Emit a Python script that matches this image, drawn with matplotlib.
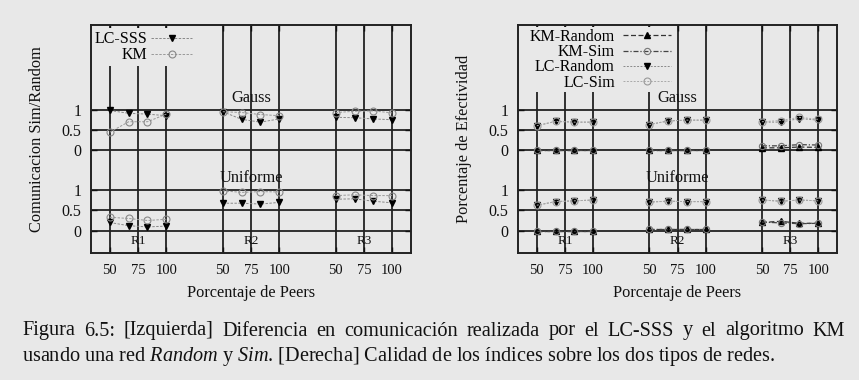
import numpy as np
import matplotlib
matplotlib.use("Agg")
import matplotlib.pyplot as plt

plt.rcParams['font.family'] = ['Liberation Serif', 'DejaVu Serif']
plt.rcParams['mathtext.fontset'] = 'custom'
plt.rcParams['mathtext.rm'] = 'Liberation Serif'
plt.rcParams['mathtext.it'] = 'Liberation Serif:italic'

BG = '#e8e8e8'
INK = '#111111'

# x positions within each group (percentage of peers)
peers = [50, 66.7, 83.3, 100]
groups = ['R1', 'R2', 'R3']
tick_vals = [50, 75, 100]

# left panel: communication Sim/Random
left_gauss_lc = [[0.99, 0.92, 0.90, 0.86], [0.96, 0.77, 0.70, 0.78], [0.82, 0.81, 0.78, 0.76]]
left_gauss_km = [[0.45, 0.71, 0.71, 0.90], [0.96, 0.94, 0.89, 0.86], [0.94, 0.97, 0.98, 0.93]]
left_unif_lc = [[0.20, 0.12, 0.09, 0.11], [0.68, 0.68, 0.66, 0.70], [0.78, 0.79, 0.73, 0.69]]
left_unif_km = [[0.33, 0.30, 0.25, 0.28], [0.99, 0.95, 0.97, 0.96], [0.87, 0.89, 0.87, 0.87]]

# right panel: effectiveness
right_gauss_km_rand = [[0.0, 0.0, 0.0, 0.0], [0.0, 0.0, 0.0, 0.0], [0.06, 0.06, 0.08, 0.07]]
right_gauss_km_sim = [[0.0, 0.0, 0.0, 0.0], [0.0, 0.0, 0.0, 0.0], [0.11, 0.11, 0.14, 0.13]]
right_gauss_lc_rand = [[0.61, 0.72, 0.70, 0.70], [0.64, 0.73, 0.75, 0.75], [0.70, 0.70, 0.79, 0.75]]
right_gauss_lc_sim = [[0.61, 0.72, 0.70, 0.70], [0.64, 0.73, 0.75, 0.75], [0.71, 0.74, 0.82, 0.77]]
right_unif_km_rand = [[0.0, 0.0, 0.0, 0.0], [0.03, 0.03, 0.03, 0.03], [0.20, 0.23, 0.18, 0.18]]
right_unif_km_sim = [[0.0, 0.0, 0.0, 0.0], [0.03, 0.03, 0.03, 0.03], [0.21, 0.19, 0.17, 0.18]]
right_unif_lc_rand = [[0.63, 0.72, 0.74, 0.76], [0.71, 0.73, 0.72, 0.72], [0.76, 0.73, 0.76, 0.74]]
right_unif_lc_sim = [[0.63, 0.72, 0.74, 0.76], [0.71, 0.73, 0.72, 0.72], [0.76, 0.73, 0.76, 0.74]]

GAUSS_SHIFT = 2.0
GROUP_STEP = 100.0

caption1 = "Figura 6.5: [Izquierda] Diferencia en comunicación realizada por el LC-SSS y el algoritmo KM"
caption2 = r"usando una red $\mathit{Random}$ y $\mathit{Sim}$. [Derecha] Calidad de los índices sobre los dos tipos de redes."

W, H = 859, 380
fig = plt.figure(figsize=(W/100, H/100), dpi=100, facecolor=BG)
ax1 = fig.add_axes([91/W, 1-253/H, 320/W, 228/H])
ax2 = fig.add_axes([518/W, 1-253/H, 319/W, 228/H])

TICK_FS = 10.5
LAB_FS = 11.8
LEG_FS = 11.5
CAP_FS = 14.6


def plot_series(ax, vals, shift, label, **kw):
    for i, row in enumerate(vals):
        xs = np.array(peers) + GROUP_STEP * i
        ys = np.array(row) + shift
        ax.plot(xs, ys, label=label if (i == 0 and shift == GAUSS_SHIFT) else None,
                zorder=3, clip_on=False, **kw)


def setup(ax, ylabel):
    ax.set_facecolor(BG)
    ax.set_xlim(33.3, 316.7)
    ax.set_ylim(-0.56, 5.12)
    xt = [v + GROUP_STEP * i for i in range(len(groups)) for v in tick_vals]
    ax.set_xticks(xt)
    ax.set_xticklabels([str(v) for _ in groups for v in tick_vals], fontsize=TICK_FS, color=INK)
    ax.set_yticks([0, 0.5, 1, 2, 2.5, 3])
    ax.set_yticklabels(['0', '0.5', '1', '0', '0.5', '1'], fontsize=TICK_FS + 1, color=INK)
    ax.tick_params(axis='both', direction='in', top=True, right=True, length=4,
                   width=1.0, color=INK)
    ax.tick_params(axis='x', pad=8)
    ax.tick_params(axis='y', pad=7)
    for v in xt:
        ax.axvline(v, color='#222222', lw=1.3, zorder=1)
    for v in [0, 0.5, 1, 2, 2.5, 3]:
        ax.axhline(v, color='#222222', lw=1.3, zorder=1)
    for s in ax.spines.values():
        s.set_linewidth(1.4)
        s.set_color('#222222')
    ax.set_xlabel('Porcentaje de Peers', fontsize=LAB_FS, color=INK, labelpad=6)
    ax.set_ylabel(ylabel, fontsize=LAB_FS, color=INK, labelpad=12)
    ax.text(175, 3.3, 'Gauss', ha='center', va='center', fontsize=LAB_FS, color=INK, zorder=6)
    ax.text(175, 1.31, 'Uniforme', ha='center', va='center', fontsize=LAB_FS, color=INK, zorder=6)
    for i, g in enumerate(groups):
        ax.text(75 + GROUP_STEP * i, -0.27, g, ha='center', va='center', fontsize=9.5,
                color=INK, zorder=4)


setup(ax1, 'Comunicacion Sim/Random')
lc_kw = dict(color='#888888', lw=0.7, ls=(0, (2.5, 1.5)), marker='v', ms=5,
             mfc='black', mec='black')
km_kw = dict(color='#999999', lw=0.7, ls=(0, (2.5, 1.5)), marker='o', ms=5,
             mfc='none', mec='#888888', mew=0.8)
for vals, sh in [(left_gauss_lc, GAUSS_SHIFT), (left_unif_lc, 0)]:
    plot_series(ax1, vals, sh, 'LC-SSS', **lc_kw)
for vals, sh in [(left_gauss_km, GAUSS_SHIFT), (left_unif_km, 0)]:
    plot_series(ax1, vals, sh, 'KM', **km_kw)
leg1 = ax1.legend(loc='upper left', bbox_to_anchor=(0, 0.99), frameon=True, facecolor=BG,
                  edgecolor='none', framealpha=1, fontsize=LEG_FS, markerfirst=False,
                  handlelength=2.6, handletextpad=0.2, borderpad=0.2, labelspacing=0.0,
                  borderaxespad=0.05, fancybox=False)
leg1.set_zorder(5)

setup(ax2, 'Porcentaje de Efectividad')
kmr_kw = dict(color='#333333', lw=0.9, ls=(0, (4, 2)), marker='^', ms=4,
              mfc='black', mec='black')
kms_kw = dict(color='#444444', lw=0.9, ls=(0, (4, 1.5, 1, 1.5)), marker='o', ms=4.5,
              mfc='none', mec='#777777', mew=0.8)
lcr_kw = dict(color='#8a8a8a', lw=0.7, ls=(0, (2, 1.5)), marker='v', ms=5,
              mfc='black', mec='black')
lcs_kw = dict(color='#aaaaaa', lw=0.7, ls=(0, (2, 1.5)), marker='o', ms=5,
              mfc='none', mec='#999999', mew=0.8)
for gvals, uvals, lab, kw in [(right_gauss_km_rand, right_unif_km_rand, 'KM-Random', kmr_kw),
                              (right_gauss_km_sim, right_unif_km_sim, 'KM-Sim', kms_kw),
                              (right_gauss_lc_rand, right_unif_lc_rand, 'LC-Random', lcr_kw),
                              (right_gauss_lc_sim, right_unif_lc_sim, 'LC-Sim', lcs_kw)]:
    plot_series(ax2, gvals, GAUSS_SHIFT, lab, **kw)
    plot_series(ax2, uvals, 0, lab, **kw)
leg2 = ax2.legend(loc='upper left', bbox_to_anchor=(0.024, 1.0), frameon=True, facecolor=BG,
                  edgecolor='none', framealpha=1, fontsize=LEG_FS, markerfirst=False,
                  handlelength=3.0, handletextpad=0.5, borderpad=0.1, labelspacing=-0.05,
                  borderaxespad=0.15, fancybox=False)
leg2.set_zorder(5)

# caption: first line justified to the full text width, second line natural
fig.canvas.draw()
renderer = fig.canvas.get_renderer()
words = caption1.split(' ')
word_texts = [fig.text(0, 1-331/H, w, fontsize=CAP_FS, color=INK, va='center', ha='left')
              for w in words]
widths = [t.get_window_extent(renderer).width for t in word_texts]
left_px, right_px = 22, 845
gap = (right_px - left_px - sum(widths)) / (len(words) - 1)
xpos = left_px
for t, w in zip(word_texts, widths):
    t.set_x(xpos / W)
    xpos += w + gap
fig.text(22/W, 1-356/H, caption2, fontsize=CAP_FS, color=INK, va='center', ha='left')

fig.savefig('out.png', dpi=100, facecolor=BG)
